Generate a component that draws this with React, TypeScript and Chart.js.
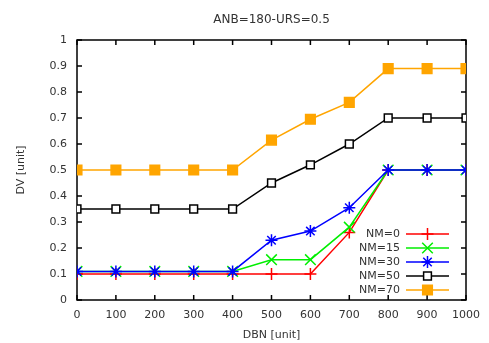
import React, { useEffect, useRef } from 'react';
import { Chart, registerables } from 'chart.js';

Chart.register(...registerables);

const TITLE = 'ANB=180-URS=0.5';
const X_LABEL = 'DBN [unit]';
const Y_LABEL = 'DV [unit]';

const dbn = [0, 100, 200, 300, 400, 500, 600, 700, 800, 900, 1000];
const seriesNames = ['NM=0', 'NM=15', 'NM=30', 'NM=50', 'NM=70'];
const nm0 = [0.1, 0.1, 0.1, 0.1, 0.1, 0.1, 0.1, 0.26, 0.5, 0.5, 0.5];
const nm15 = [0.11, 0.11, 0.11, 0.11, 0.11, 0.155, 0.155, 0.28, 0.5, 0.5, 0.5];
const nm30 = [0.11, 0.11, 0.11, 0.11, 0.11, 0.23, 0.265, 0.355, 0.5, 0.5, 0.5];
const nm50 = [0.35, 0.35, 0.35, 0.35, 0.35, 0.45, 0.52, 0.6, 0.7, 0.7, 0.7];
const nm70 = [0.5, 0.5, 0.5, 0.5, 0.5, 0.615, 0.695, 0.76, 0.89, 0.89, 0.89];

const seriesValues = [nm0, nm15, nm30, nm50, nm70];
const colors = ['#ff0000', '#00ee00', '#0000ff', '#000000', '#ffa500'];
const pointStyles = ['cross', 'crossRot', 'star', 'rect', 'rect'];
const pointRadii = [6, 7.5, 6, 5.5, 6.8];
const pointFilled = [false, false, false, false, true];

const FONT = 'DejaVu Sans';
const TEXT_COLOR = '#333';

function drawMarker(ctx: CanvasRenderingContext2D, style: string, x: number, y: number, r: number, color: string, filled: boolean) {
  ctx.save();
  ctx.strokeStyle = color;
  ctx.fillStyle = color;
  ctx.lineWidth = 1.5;
  ctx.beginPath();
  const d = r * Math.SQRT1_2;
  if (style === 'cross' || style === 'star') {
    ctx.moveTo(x - r, y);
    ctx.lineTo(x + r, y);
    ctx.moveTo(x, y - r);
    ctx.lineTo(x, y + r);
  }
  if (style === 'crossRot' || style === 'star') {
    ctx.moveTo(x - d, y - d);
    ctx.lineTo(x + d, y + d);
    ctx.moveTo(x - d, y + d);
    ctx.lineTo(x + d, y - d);
  }
  if (style === 'rect') {
    ctx.rect(x - d, y - d, 2 * d, 2 * d);
    if (filled) ctx.fill();
    else {
      ctx.fillStyle = '#fff';
      ctx.fill();
    }
  }
  ctx.stroke();
  ctx.restore();
}

const framePlugin = {
  id: 'gnuFrame',
  beforeDatasetsDraw(chart: any) {
    const { ctx, chartArea } = chart;
    const { left, right, top, bottom } = chartArea;
    const xs = chart.scales.x;
    const ys = chart.scales.y;
    ctx.save();
    ctx.strokeStyle = '#000';
    ctx.lineWidth = 1.5;
    ctx.strokeRect(left, top, right - left, bottom - top);
    ctx.beginPath();
    const tl = 5;
    xs.ticks.forEach((t: any) => {
      const px = xs.getPixelForValue(t.value);
      ctx.moveTo(px, bottom);
      ctx.lineTo(px, bottom - tl);
      ctx.moveTo(px, top);
      ctx.lineTo(px, top + tl);
    });
    ys.ticks.forEach((t: any) => {
      const py = ys.getPixelForValue(t.value);
      ctx.moveTo(left, py);
      ctx.lineTo(left + tl, py);
      ctx.moveTo(right, py);
      ctx.lineTo(right - tl, py);
    });
    ctx.stroke();
    ctx.restore();
  },
  afterDatasetsDraw(chart: any) {
    const { ctx, chartArea } = chart;
    const { left, right, bottom } = chartArea;
    ctx.save();
    ctx.fillStyle = TEXT_COLOR;
    ctx.font = `12px "${FONT}"`;
    ctx.textAlign = 'center';
    ctx.textBaseline = 'middle';
    ctx.fillText(TITLE, (left + right) / 2, 20);
    ctx.font = `11px "${FONT}"`;
    ctx.textAlign = 'right';
    seriesNames.forEach((name, i) => {
      const y = bottom - 66 + i * 14;
      ctx.fillStyle = TEXT_COLOR;
      ctx.fillText(name, right - 66, y);
      ctx.strokeStyle = colors[i];
      ctx.lineWidth = 1.5;
      ctx.beginPath();
      ctx.moveTo(right - 60, y);
      ctx.lineTo(right - 17, y);
      ctx.stroke();
      drawMarker(ctx, pointStyles[i], right - 38.5, y, pointRadii[i], colors[i], pointFilled[i]);
    });
    ctx.restore();
  },
};

const fmt = (v: any) => String(Math.round(Number(v) * 10) / 10);

export default function App() {
  const ref = useRef<HTMLCanvasElement | null>(null);
  useEffect(() => {
    document.body.style.margin = '0';
    const canvas = ref.current;
    if (!canvas) return;
    const datasets = seriesNames.map((name, i) => ({
      label: name,
      data: dbn.map((x, j) => ({ x, y: seriesValues[i][j] })),
      borderColor: colors[i],
      backgroundColor: pointFilled[i] ? colors[i] : '#ffffff',
      borderWidth: 1.5,
      pointStyle: pointStyles[i],
      pointRadius: pointRadii[i],
      pointBorderWidth: 1.5,
      pointBorderColor: colors[i],
      pointBackgroundColor: pointFilled[i] ? colors[i] : '#ffffff',
      pointHoverRadius: pointRadii[i],
      order: seriesNames.length - i,
      fill: false,
      tension: 0,
    }));
    const chart = new Chart(canvas, {
      type: 'line',
      data: { datasets },
      options: {
        animation: false,
        responsive: false,
        maintainAspectRatio: false,
        layout: { padding: { top: 40, right: 23, left: 0, bottom: 0 } },
        plugins: {
          legend: { display: false },
          title: { display: false },
          tooltip: { enabled: false },
        },
        scales: {
          x: {
            type: 'linear',
            min: 0,
            max: 1000,
            grid: { display: false, drawTicks: false },
            border: { display: false },
            ticks: {
              stepSize: 100,
              padding: 9,
              color: TEXT_COLOR,
              font: { family: FONT, size: 11 },
              maxRotation: 0,
              autoSkip: false,
              callback: (v: any) => fmt(v),
            },
            title: {
              display: true,
              text: X_LABEL,
              color: TEXT_COLOR,
              font: { family: FONT, size: 11 },
              padding: { top: 0, bottom: 1.4 },
            },
            afterFit(scale: any) {
              scale.height = 43;
            },
          },
          y: {
            type: 'linear',
            min: 0,
            max: 1,
            grid: { display: false, drawTicks: false },
            border: { display: false },
            ticks: {
              stepSize: 0.1,
              padding: 10,
              color: TEXT_COLOR,
              font: { family: FONT, size: 11 },
              autoSkip: false,
              callback: (v: any) => fmt(v),
            },
            title: {
              display: true,
              text: Y_LABEL,
              color: TEXT_COLOR,
              font: { family: FONT, size: 11 },
              padding: { top: 15, bottom: 0 },
            },
            afterFit(scale: any) {
              scale.width = 77;
            },
          },
        },
      },
      plugins: [framePlugin],
    });
    return () => chart.destroy();
  }, []);
  return (
    <div style={{ position: 'fixed', left: 0, top: 0, width: 489, height: 343, background: '#fff' }}>
      <canvas ref={ref} width={489} height={343} style={{ display: 'block' }} />
    </div>
  );
}
